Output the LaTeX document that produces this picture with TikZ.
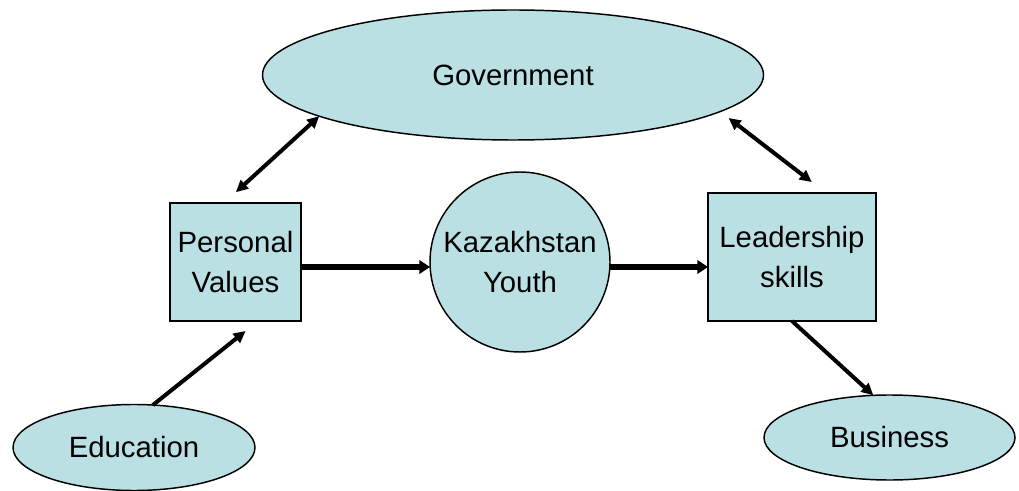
\documentclass[tikz,border=0pt]{standalone}
\usepackage{fontspec}
\setmainfont{Liberation Sans}
\usepackage{xcolor}
\usepackage{tikz}
\usetikzlibrary{shapes.geometric}
\usetikzlibrary{arrows.meta}
\usetikzlibrary{positioning}
\definecolor{paleteal}{RGB}{187,224,227}
\tikzset{%
  ovalcol/.style={ellipse,fill=paleteal,draw=black,line width=1.1pt,inner sep=0pt,outer sep=0pt}
}
\tikzset{%
  boxcol/.style={rectangle,fill=paleteal,draw=black,line width=1.1pt,inner sep=0pt,outer sep=0pt,align=center}
}
\tikzset{%
  linkarrow/.style={-{Triangle[length=9pt,width=8.5pt]},line width=3pt},
  thicklink/.style={-{Triangle[length=8pt,width=10pt]},line width=4.2pt},
  bothways/.style={{Triangle[length=9pt,width=8.5pt]}-{Triangle[length=9pt,width=8.5pt]},line width=3pt}
}
\begin{document}
\begin{tikzpicture}[x=0.75pt,y=-0.75pt,font=\fontsize{22}{29.5}\selectfont]
            \useasboundingbox (0,0) rectangle (1019,491);
            \node[ovalcol,minimum width=375.75pt,minimum height=97.5pt](gov) at (513,75){Government};
            \node[boxcol,minimum width=98.25pt,minimum height=88.5pt](pv) at (235.5,262){Personal\\Values};
            \node[ovalcol,circle,minimum size=135pt,align=center,right=96.75pt of pv](ky){Kazakhstan\\Youth};
            \node[boxcol,minimum width=126pt,minimum height=96pt](ls) at (792,257){Leadership\\skills};
            \node[ovalcol,minimum width=181.5pt,minimum height=64.5pt](edu) at (134,447.5){\raisebox{-6pt}{Education}};
            \node[ovalcol,minimum width=188.25pt,minimum height=63.75pt](bus) at (889.5,437.5){\raisebox{-2.6pt}{Business}};

            \draw[bothways,shorten <=12pt] (pv.101) -- (gov.192);
            \draw[bothways,shorten <=13.5pt,shorten >=8pt] (ls.62.7) -- (gov.-10);
            \draw[thicklink] ([yshift=-3.75pt]pv.east) -- ([yshift=-3.75pt]ky.west);
            \draw[thicklink] ([yshift=-3.75pt]ky.east) -- ([yshift=-7.5pt]ls.west);
            \draw[linkarrow,shorten >=12pt] (edu.66.6) -- (pv.-69.6);
            \draw[linkarrow] (ls.south) -- (bus.111);
        \end{tikzpicture}
\end{document}
